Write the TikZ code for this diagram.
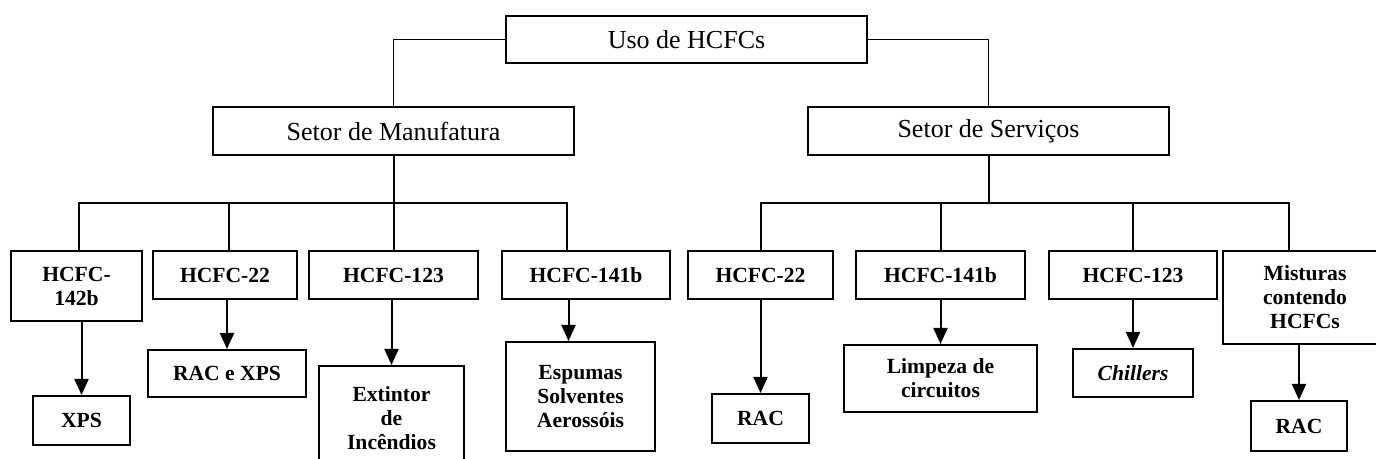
\documentclass[tikz,border=0pt]{standalone}
\usepackage{fontspec}
\setmainfont{Liberation Serif}
\usetikzlibrary{arrows.meta,positioning}
\tikzset{
  topbox/.style={draw, line width=0.8pt, inner sep=0pt, font=\fontsize{13}{15}\selectfont},
  subbox/.style={draw, line width=1pt, inner sep=0pt, align=center, font=\bfseries\fontsize{10.8}{12}\selectfont},
  link/.style={line width=0.7pt},
  branch/.style={line width=1pt},
  arr/.style={line width=1pt, -{Triangle[length=8pt,width=7pt]}}
}
\begin{document}
\begin{tikzpicture}[x=0.5pt,y=-0.5pt]
\useasboundingbox (0,0) rectangle (1376,459);
% top levels
\node[topbox, minimum width=180.5pt, minimum height=23.5pt] at (686.5,39.5)(uso){Uso de HCFCs};
\node[topbox, minimum width=180.5pt, minimum height=24pt] at (393.5,131)(manuf){Setor de Manufatura};
\node[topbox, minimum width=180.5pt, minimum height=24pt] at (988.5,131)(serv){Setor de Serviços};
\draw[link] (uso.west) -| (manuf.north);
\draw[link] (uso.east) -| (serv.north);
% manufatura
\node[subbox, minimum width=65.5pt, minimum height=35pt] at (76.5,286)(m142){HCFC-\\142b};
\node[subbox, minimum width=72pt, minimum height=24pt] at (225,275)(m22){HCFC-22};
\node[subbox, minimum width=84.5pt, minimum height=24pt] at (393.5,275)(m123){HCFC-123};
\node[subbox, minimum width=84pt, minimum height=24pt] at (586,275)(m141){HCFC-141b};
\node[subbox, minimum width=48.5pt, minimum height=24.5pt] at (81.5,420.5)(xps){XPS};
\node[subbox, minimum width=79pt, minimum height=23.5pt] at (227,373.5)(racxps){RAC e XPS};
\node[subbox, minimum width=72.5pt, minimum height=52pt] at (391.5,418)(extintor){Extintor\\de\\Incêndios};
\node[subbox, minimum width=74.5pt, minimum height=54.5pt] at (580.5,396.5)(espumas){Espumas\\Solventes\\Aerossóis};
\coordinate (mbar) at (manuf.south |- 0,203);
\draw[branch] (manuf.south) -- (mbar) -- (m123.north);
\draw[branch] ([xshift=1.25pt]m142.north) |- ([xshift=-9.5pt]m141.north |- mbar) -- ([xshift=-9.5pt]m141.north);
\draw[branch] ([xshift=2pt]m22.north) -- ([xshift=2pt]m22.north |- mbar);
% servicos
\node[subbox, minimum width=72.5pt, minimum height=24pt] at (760.5,275)(s22){HCFC-22};
\node[subbox, minimum width=84.5pt, minimum height=24pt] at (940.5,275)(s141){HCFC-141b};
\node[subbox, minimum width=84pt, minimum height=24pt] at (1133,275)(s123){HCFC-123};
\node[subbox, minimum width=82pt, minimum height=46.5pt] at (1305,297.5)(mist){Misturas\\contendo\\HCFCs};
\node[subbox, minimum width=48.5pt, minimum height=24.5pt] at (760.5,418.5)(rac){RAC};
\node[subbox, minimum width=96.5pt, minimum height=33.5pt] at (940.5,378.5)(limpeza){Limpeza de\\circuitos};
\node[subbox, minimum width=60pt, minimum height=24pt] at (1133,373)(chillers){\itshape Chillers};
\node[subbox, minimum width=48pt, minimum height=25pt] at (1299,426)(racmist){RAC};
\coordinate (sbar) at (serv.south |- 0,203);
\draw[branch] (serv.south) -- (sbar);
\draw[branch] (s22.north) |- ([xshift=-8pt]mist.north |- sbar) -- ([xshift=-8pt]mist.north);
\draw[branch] (s141.north) -- (s141.north |- sbar);
\draw[branch] (s123.north) -- (s123.north |- sbar);
% arrows
\foreach \src/\dst in {m142/xps, m22/racxps, m123/extintor, s22/rac, s141/limpeza, s123/chillers, mist/racmist}
  \draw[arr] (\dst.north |- \src.south) -- (\dst.north);
\draw[arr] ([xshift=-6pt]espumas.north |- m141.south) -- ([xshift=-6pt]espumas.north);
\end{tikzpicture}
\end{document}
